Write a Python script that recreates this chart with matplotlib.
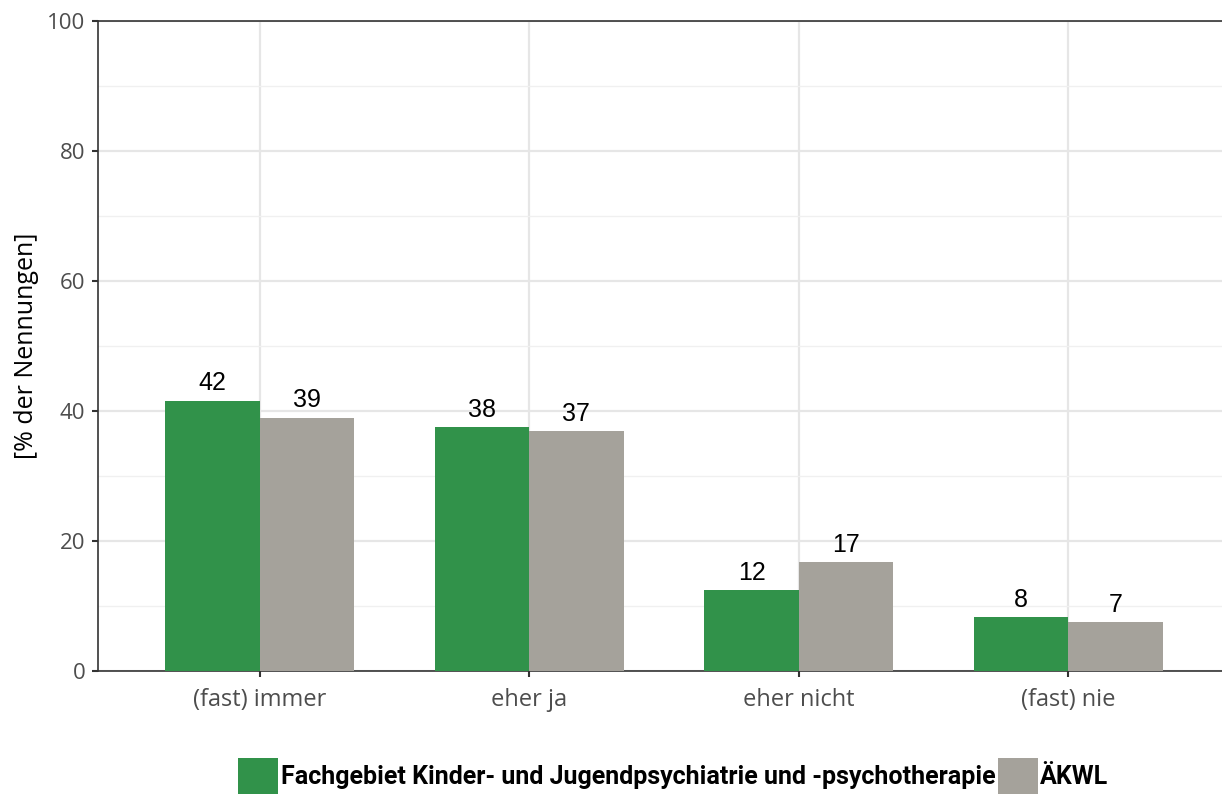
import matplotlib.pyplot as plt
import numpy as np

categories = ["(fast) immer", "eher ja", "eher nicht", "(fast) nie"]
series_names = ["Fachgebiet Kinder- und Jugendpsychiatrie und -psychotherapie", "ÄKWL"]
fach_values = [41.6, 37.5, 12.4, 8.3]
akwl_values = [39.0, 36.9, 16.7, 7.5]
fach_labels = ["42", "38", "12", "8"]
akwl_labels = ["39", "37", "17", "7"]

GREEN = "#31924a"
GREY = "#a5a29b"

fig = plt.figure(figsize=(12.22, 7.94), dpi=100)
ax = fig.add_axes([98 / 1222, 123 / 794, 1132 / 1222, 650 / 794])

x = np.arange(len(categories))
w = 0.35
b1 = ax.bar(x - w / 2, fach_values, w, color=GREEN, label=series_names[0], zorder=3)
b2 = ax.bar(x + w / 2, akwl_values, w, color=GREY, label=series_names[1], zorder=3)

# value labels above the bars
for bars, labels in [(b1, fach_labels), (b2, akwl_labels)]:
    for rect, lab in zip(bars, labels):
        ax.text(rect.get_x() + rect.get_width() / 2, rect.get_height() + 0.8, lab,
                ha="center", va="bottom", fontsize=18, family="Liberation Sans", color="black")

ax.set_xlim(-0.6, 3.6)
ax.set_ylim(0, 100)
ax.set_yticks(range(0, 101, 20))
ax.set_yticks(range(10, 100, 20), minor=True)
ax.set_xticks(x)
ax.set_xticklabels(categories)
ax.grid(which="major", color="#e6e6e6", linewidth=1.6, zorder=0)
ax.grid(which="minor", axis="y", color="#f0f0f0", linewidth=1.0, zorder=0)
ax.tick_params(which="minor", length=0)
ax.tick_params(which="major", length=4, width=1.5, color="#333333",
               labelsize=16, labelcolor="#4d4d4d", pad=5)
ax.tick_params(axis="x", labelsize=17, pad=8)
for lab in ax.get_xticklabels() + ax.get_yticklabels():
    lab.set_family("Open Sans")
for side in ["left", "bottom", "top", "right"]:
    ax.spines[side].set_color("#333333")
    ax.spines[side].set_linewidth(1.2)

ax.set_ylabel("[% der Nennungen]", fontsize=18, family="Open Sans", color="black", labelpad=6)

leg = fig.legend(handles=[b1, b2], loc="center", bbox_to_anchor=(0.551, 1 - 776 / 794),
                 ncol=2, frameon=False, handlelength=1.6, handleheight=1.8,
                 handletextpad=0.1, columnspacing=0.1, borderpad=0,
                 prop={"family": ["Roboto", "DejaVu Sans"], "weight": "bold", "size": 18})

fig.savefig("out.png", dpi=100)
